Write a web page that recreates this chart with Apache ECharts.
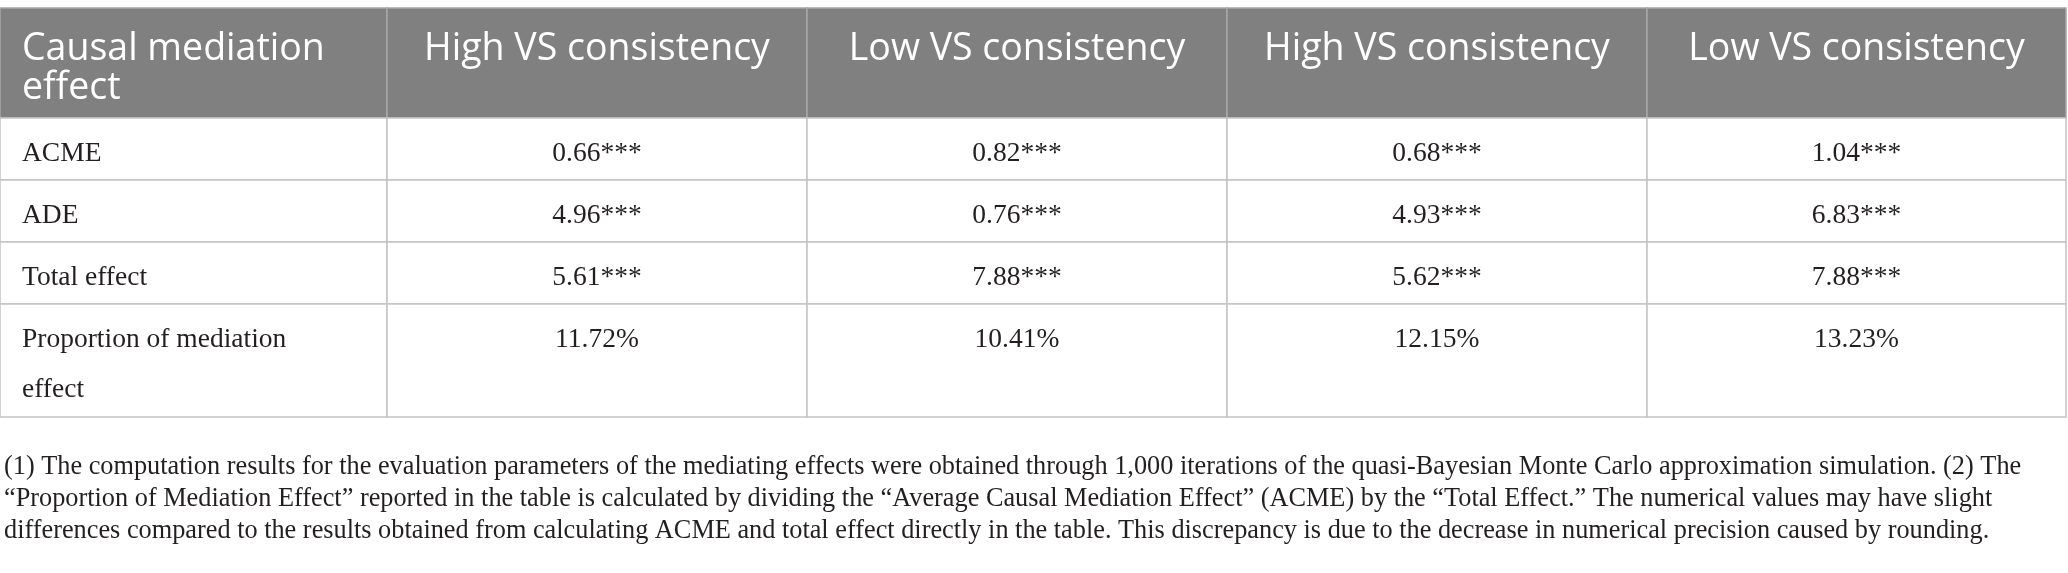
<!DOCTYPE html>
<html>
<head>
<meta charset="utf-8">
<script src="https://cdn.jsdelivr.net/npm/echarts@6/dist/echarts.min.js"></script>
<style>
  html, body { margin: 0; padding: 0; background: #fff; }
  #main { width: 2068px; height: 573px; }
</style>
</head>
<body>
<div id="main"></div>
<script>
// table content
const headers = ['Causal mediation\neffect', 'High VS consistency', 'Low VS consistency', 'High VS consistency', 'Low VS consistency']
const rowLabels = ['ACME', 'ADE', 'Total effect', 'Proportion of mediation\neffect']
const highVs1 = ['0.66***', '4.96***', '5.61***', '11.72%']
const lowVs1 = ['0.82***', '0.76***', '7.88***', '10.41%']
const highVs2 = ['0.68***', '4.93***', '5.62***', '12.15%']
const lowVs2 = ['1.04***', '6.83***', '7.88***', '13.23%']
const notes = [
  '(1) The computation results for the evaluation parameters of the mediating effects were obtained through 1,000 iterations of the quasi-Bayesian Monte Carlo approximation simulation. (2) The',
  '\u201cProportion of Mediation Effect\u201d reported in the table is calculated by dividing the \u201cAverage Causal Mediation Effect\u201d (ACME) by the \u201cTotal Effect.\u201d The numerical values may have slight',
  'differences compared to the results obtained from calculating ACME and total effect directly in the table. This discrepancy is due to the decrease in numerical precision caused by rounding.'
]

// layout of the grid (axis units = px inside the grid)
const colEdges = [0, 387, 807, 1227, 1647, 2066]
const rowEdges = [0, 110, 172, 234, 296, 409]

const columnsData = [rowLabels, highVs1, lowVs1, highVs2, lowVs2]
const cells = []
headers.forEach((h, c) => cells.push([c, 0, h]))
columnsData.forEach((col, c) => {
  col.forEach((v, r) => cells.push([c, r + 1, v]))
})

const chart = echarts.init(document.getElementById('main'), null, { renderer: 'canvas' })

const renderCell = (params, api) => {
  const c = api.value(0)
  const r = api.value(1)
  const text = cells[params.dataIndex][2]
  const p0 = api.coord([colEdges[c], rowEdges[r]])
  const p1 = api.coord([colEdges[c + 1], rowEdges[r + 1]])
  const isHead = r === 0
  const left = c === 0
  const tx = left ? p0[0] + 22 : (p0[0] + p1[0]) / 2
  return {
    type: 'group',
    children: [{
      type: 'rect',
      shape: { x: p0[0], y: p0[1], width: p1[0] - p0[0], height: p1[1] - p0[1] },
      style: {
        fill: isHead ? '#808080' : '#ffffff',
        stroke: isHead ? '#a6a6a6' : '#c4c4c4',
        lineWidth: 1.5
      }
    }, {
      type: 'text',
      x: tx,
      y: isHead ? p0[1] + 22 : p0[1] + 11,
      style: {
        text: text,
        fill: isHead ? '#ffffff' : '#231f20',
        font: isHead ? '37.5px "Open Sans"' : '27.5px "Liberation Serif"',
        lineHeight: isHead ? 39 : 50,
        align: left ? 'left' : 'center',
        verticalAlign: 'top'
      }
    }]
  }
}

chart.setOption({
  backgroundColor: '#ffffff',
  animation: false,
  grid: { left: 0, right: 2, top: 8, height: 409 },
  xAxis: { type: 'value', min: 0, max: 2066, show: false },
  yAxis: { type: 'value', min: 0, max: 409, inverse: true, show: false },
  graphic: [{
    type: 'text',
    left: 4,
    top: 451,
    style: {
      text: notes.join('\n'),
      fill: '#231f20',
      font: '26.3px "Liberation Serif"',
      lineHeight: 32
    }
  }],
  series: [{
    type: 'custom',
    renderItem: renderCell,
    data: cells.map(d => [d[0], d[1]]),
    silent: true
  }]
})
</script>
</body>
</html>
